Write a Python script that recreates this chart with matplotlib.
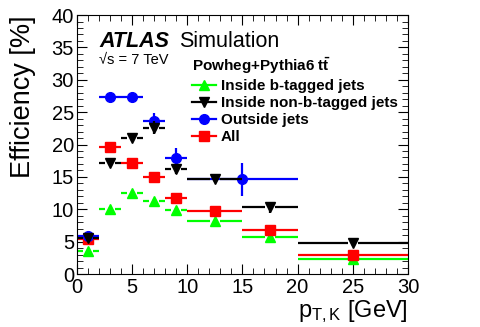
import matplotlib
matplotlib.use("Agg")
import matplotlib.pyplot as plt
from matplotlib.lines import Line2D
from matplotlib.ticker import MultipleLocator
import numpy as np

plt.rcParams['font.family'] = ['Liberation Sans', 'DejaVu Sans']
plt.rcParams['mathtext.fontset'] = 'custom'
plt.rcParams['mathtext.rm'] = 'Liberation Sans'
plt.rcParams['mathtext.bf'] = 'Liberation Sans:bold'
plt.rcParams['mathtext.it'] = 'Liberation Sans:italic'

# bins
bin_lo = [0, 2, 4, 6, 8, 10, 15, 20]
bin_hi = [2, 4, 6, 8, 10, 15, 20, 30]

green_y = [3.6, 10.1, 12.5, 11.3, 9.9, 8.2, 5.7, 2.3]
green_err = [0.3, 0.3, 0.3, 0.3, 0.3, 0.3, 0.3, 0.3]
red_y = [5.35, 19.6, 17.2, 15.0, 11.7, 9.7, 6.8, 2.9]
red_err = [0.3, 0.3, 0.3, 0.3, 0.3, 0.3, 0.3, 0.3]
black_y = [5.5, 17.1, 21.0, 22.6, 16.2, 14.6, 10.3, 4.8]
black_err = [0.3, 0.3, 0.4, 1.0, 0.8, 0.4, 0.9, 0.5]

blue_lo = [0, 2, 4, 6, 8, 10]
blue_hi = [2, 4, 6, 8, 10, 20]
blue_y = [5.8, 27.4, 27.3, 23.7, 17.9, 14.6]
blue_err = [0.3, 0.3, 0.3, 1.2, 1.5, 2.5]

labels = ["Inside b-tagged jets", "Inside non-b-tagged jets", "Outside jets", "All"]

fig = plt.figure(figsize=(4.8, 3.27), dpi=100)
ax = fig.add_axes([0.160, 0.162, 0.690, 0.792])

GAP = 0.45

def draw(lo, hi, y, err, color, marker, ms):
    lo = np.array(lo, float); hi = np.array(hi, float)
    y = np.array(y, float); err = np.array(err, float)
    x = (lo + hi) / 2
    for xl, xh, xc, yc, e in zip(lo, hi, x, y, err):
        ax.plot([xl, xc - GAP], [yc, yc], color=color, lw=1.6, solid_capstyle='butt')
        ax.plot([xc + GAP, xh], [yc, yc], color=color, lw=1.6, solid_capstyle='butt')
        ax.plot([xc, xc], [yc - e, yc + e], color=color, lw=1.6, solid_capstyle='butt')
    ax.plot(x, y, ls='none', marker=marker, color=color, ms=ms, mec=color)

draw(bin_lo, bin_hi, green_y, green_err, '#00ff00', '^', 7)
draw(bin_lo, bin_hi, red_y, red_err, '#ff0000', 's', 7)
draw(blue_lo, blue_hi, blue_y, blue_err, '#0000ff', 'o', 7)
draw(bin_lo, bin_hi, black_y, black_err, '#000000', 'v', 7)

ax.set_xlim(0, 30)
ax.set_ylim(0, 40)
ax.xaxis.set_major_locator(MultipleLocator(5))
ax.xaxis.set_minor_locator(MultipleLocator(1))
ax.yaxis.set_major_locator(MultipleLocator(5))
ax.yaxis.set_minor_locator(MultipleLocator(1))
ax.tick_params(which='both', direction='in', top=True, right=True, labelsize=14.5)
ax.tick_params(axis='x', which='both', pad=3)
ax.tick_params(axis='y', which='both', pad=2)
ax.tick_params(which='major', length=7)
ax.tick_params(which='minor', length=4)

ax.set_ylabel("Efficiency [%]", fontsize=19.5, loc='top', labelpad=11)
ax.set_xlabel(r"$\mathregular{p_{T,K}}$ [GeV]", fontsize=17, loc='right', labelpad=1)

ax.text(0.067, 0.875, "ATLAS", transform=ax.transAxes, fontsize=15.5,
        fontweight='bold', fontstyle='italic')
ax.text(0.31, 0.875, "Simulation", transform=ax.transAxes, fontsize=15.5)
ax.text(0.067, 0.81, "\u221as = 7 TeV", transform=ax.transAxes, fontsize=10.5)

handles = [
    Line2D([], [], color='#00ff00', marker='^', ms=7, lw=1.6),
    Line2D([], [], color='#000000', marker='v', ms=7, lw=1.6),
    Line2D([], [], color='#0000ff', marker='o', ms=7, lw=1.6),
    Line2D([], [], color='#ff0000', marker='s', ms=7, lw=1.6),
]
leg = ax.legend(handles, labels, loc='upper left', bbox_to_anchor=(0.347, 0.842),
                frameon=False, prop={'weight': 'bold', 'size': 11},
                handlelength=1.6, handletextpad=0.3, labelspacing=0.2,
                borderpad=0, borderaxespad=0,
                title=r"Powheg+Pythia6 $\mathbf{t\bar{t}}$",
                title_fontproperties={'weight': 'bold', 'size': 11},
                alignment='left')

fig.savefig("out.png", dpi=100)
